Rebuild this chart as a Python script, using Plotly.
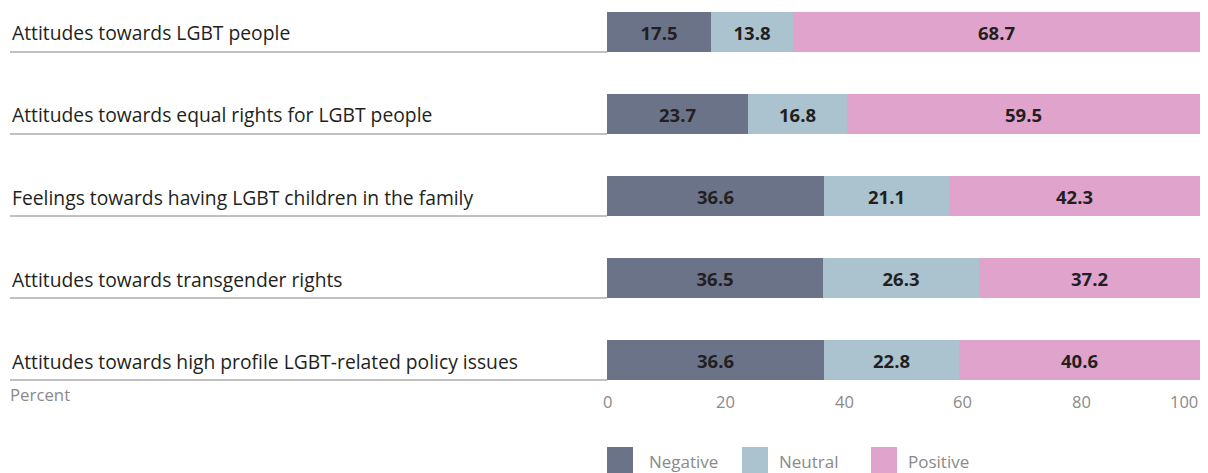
import plotly.graph_objects as go

# data (percent)
categories = [
    "Attitudes towards LGBT people",
    "Attitudes towards equal rights for LGBT people",
    "Feelings towards having LGBT children in the family",
    "Attitudes towards transgender rights",
    "Attitudes towards high profile LGBT-related policy issues",
]
negative = [17.5, 23.7, 36.6, 36.5, 36.6]
neutral = [13.8, 16.8, 21.1, 26.3, 22.8]
positive = [68.7, 59.5, 42.3, 37.2, 40.6]
series_names = ["Negative", "Neutral", "Positive"]
tick_values = [0, 20, 40, 60, 80, 100]

COLORS = ["#6b7389", "#abc3cf", "#e0a3cb"]
FONT = "Open Sans"

# the page body adds an 8px margin, so the figure is 8px smaller
W, H = 1200, 465
L, R, T, B = 599, 8, 2, 91
PW, PH = W - L - R, H - T - B
PLOT_LEFT, PLOT_BOTTOM = 607, 382  # in screenshot pixels


def px_x(p):
    """screenshot pixel x -> paper x"""
    return (p - PLOT_LEFT) / PW


def px_y(p):
    """screenshot pixel y -> paper y"""
    return (PLOT_BOTTOM - p) / PH


fig = go.Figure()
for name, vals, col in zip(series_names, [negative, neutral, positive], COLORS):
    fig.add_trace(go.Bar(
        y=categories, x=vals, name=name, orientation="h",
        marker=dict(color=col, line=dict(width=0)),
        width=0.49,
        text=[f"{v:.1f}" for v in vals],
        textposition="inside", insidetextanchor="middle",
        textangle=0, constraintext="none",
        textfont=dict(family=FONT, size=18.5, color="#231f20", weight="bold"),
        hoverinfo="x+name",
    ))

# category labels + underline rules on the left
shapes = []
annotations = []
for i, cat in enumerate(categories):
    annotations.append(dict(
        x=px_x(10), xref="paper", y=cat, yref="y",
        text=cat, showarrow=False, xanchor="left", yanchor="middle", yshift=-1,
        font=dict(family=FONT, size=19.3, color="#231f20"),
    ))
    shapes.append(dict(
        type="line", xref="paper", yref="y",
        x0=px_x(10), x1=0, y0=i + 0.245, y1=i + 0.245,
        line=dict(color="#adadad", width=1.5),
    ))

annotations.append(dict(
    x=px_x(8), xref="paper", y=px_y(394), yref="paper",
    text="Percent", showarrow=False, xanchor="left", yanchor="middle",
    font=dict(family=FONT, size=16.8, color="#8a8a8a"),
))

# tick labels (last one right-aligned to the plot edge)
for v in tick_values:
    annotations.append(dict(
        x=v, xref="x", y=px_y(401), yref="paper",
        text=str(v), showarrow=False,
        xanchor="right" if v == 100 else "center", yanchor="middle",
        font=dict(family=FONT, size=16.5, color="#8a8a8a"),
    ))

# legend drawn by hand so the swatches are large squares
legend_box_x = [607, 742, 871]
legend_text_x = [647, 777, 906]
for name, col, bx, tx in zip(series_names, COLORS, legend_box_x, legend_text_x):
    shapes.append(dict(
        type="rect", xref="paper", yref="paper",
        x0=px_x(bx), x1=px_x(bx + 26), y0=px_y(447), y1=px_y(474),
        fillcolor=col, line=dict(width=0),
    ))
    annotations.append(dict(
        x=px_x(tx), xref="paper", y=px_y(461), yref="paper",
        text=name, showarrow=False, xanchor="left", yanchor="middle",
        font=dict(family=FONT, size=17, color="#8a8a8a"),
    ))

fig.update_layout(
    barmode="stack",
    width=W, height=H,
    margin=dict(l=L, r=R, t=T, b=B, autoexpand=False),
    paper_bgcolor="white", plot_bgcolor="white",
    showlegend=False,
    bargap=0,
    xaxis=dict(range=[0, 100], showgrid=False, zeroline=False,
               showticklabels=False, ticks="", showline=False),
    yaxis=dict(categoryorder="array", categoryarray=categories,
               range=[4.268, -0.268], showgrid=False, zeroline=False,
               showticklabels=False, ticks="", showline=False),
    shapes=shapes,
    annotations=annotations,
    uniformtext=dict(mode=False),
)

fig.write_html("out.html")
